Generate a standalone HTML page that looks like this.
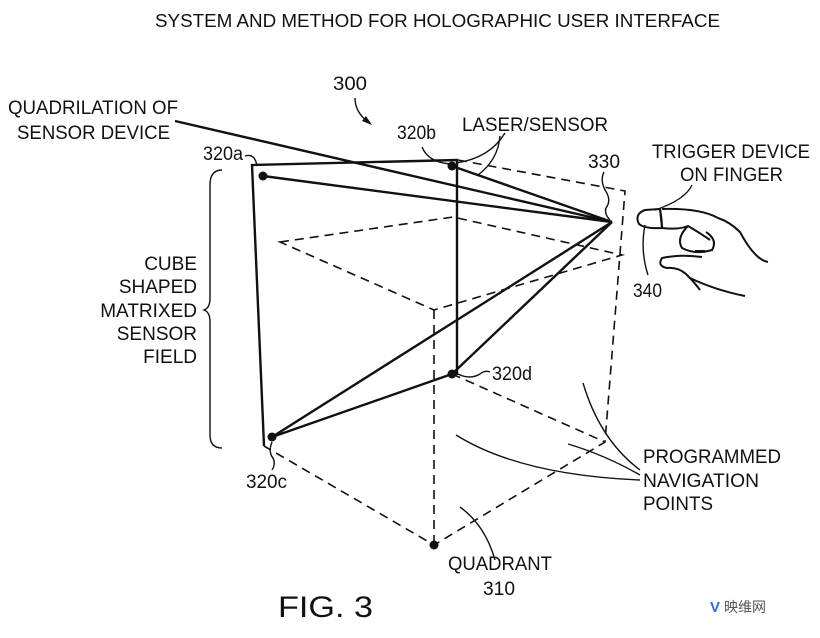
<!DOCTYPE html>
<html><head><meta charset="utf-8"><style>
html,body{margin:0;padding:0;background:#fff;}
svg{display:block;}
text{font-family:"Liberation Sans",Arial,sans-serif;fill:#111;}
</style></head><body>
<svg width="820" height="638" viewBox="0 0 820 638" xmlns="http://www.w3.org/2000/svg">
<rect width="820" height="638" fill="#fff"/>
<text x="155" y="27" font-size="18" textLength="565" lengthAdjust="spacingAndGlyphs">SYSTEM AND METHOD FOR HOLOGRAPHIC USER INTERFACE</text>

<g font-size="19">
<text x="8" y="114" textLength="170" lengthAdjust="spacingAndGlyphs">QUADRILATION OF</text>
<text x="17" y="139" textLength="153" lengthAdjust="spacingAndGlyphs">SENSOR DEVICE</text>
<text x="333" y="90" textLength="34" lengthAdjust="spacingAndGlyphs">300</text>
<text x="397" y="139" textLength="39" lengthAdjust="spacingAndGlyphs">320b</text>
<text x="462" y="131" textLength="146" lengthAdjust="spacingAndGlyphs">LASER/SENSOR</text>
<text x="203" y="160" textLength="40" lengthAdjust="spacingAndGlyphs">320a</text>
<text x="588" y="168" textLength="32" lengthAdjust="spacingAndGlyphs">330</text>
<text x="652" y="158" textLength="158" lengthAdjust="spacingAndGlyphs">TRIGGER DEVICE</text>
<text x="680" y="181" textLength="103" lengthAdjust="spacingAndGlyphs">ON FINGER</text>
<text x="633" y="297" textLength="29" lengthAdjust="spacingAndGlyphs">340</text>
<text x="197" y="270" text-anchor="end">CUBE</text>
<text x="197" y="293" text-anchor="end">SHAPED</text>
<text x="197" y="317" text-anchor="end">MATRIXED</text>
<text x="197" y="340" text-anchor="end">SENSOR</text>
<text x="197" y="363" text-anchor="end">FIELD</text>
<text x="492" y="380" textLength="40" lengthAdjust="spacingAndGlyphs">320d</text>
<text x="246" y="488" textLength="41" lengthAdjust="spacingAndGlyphs">320c</text>
<text x="643" y="463" textLength="138" lengthAdjust="spacingAndGlyphs">PROGRAMMED</text>
<text x="643" y="487" textLength="116" lengthAdjust="spacingAndGlyphs">NAVIGATION</text>
<text x="643" y="510" textLength="70" lengthAdjust="spacingAndGlyphs">POINTS</text>
<text x="448" y="570" textLength="104" lengthAdjust="spacingAndGlyphs">QUADRANT</text>
<text x="483" y="595" textLength="32" lengthAdjust="spacingAndGlyphs">310</text>
</g>
<text x="278" y="617" font-size="30" textLength="95" lengthAdjust="spacingAndGlyphs">FIG. 3</text>

<!-- dashed cube -->
<g fill="none" stroke="#111" stroke-width="1.6" stroke-dasharray="9,6">
<polyline points="458,160 625,191 605,442 434,545 264,446"/>
<line x1="434" y1="310" x2="434" y2="545"/>
<polygon points="280,242 453,217 622,255 434,310"/>
<line x1="452" y1="374" x2="605" y2="442"/>
</g>

<!-- solid lines -->
<g fill="none" stroke="#111" stroke-width="2.4">
<polyline points="458,160 252,165 264,446"/>
<line x1="175" y1="121" x2="612" y2="222"/>
<line x1="263" y1="176" x2="612" y2="222"/>
<line x1="452" y1="166" x2="612" y2="222"/>
<line x1="457" y1="160" x2="457" y2="375"/>
<line x1="452" y1="374" x2="612" y2="222"/>
<line x1="272" y1="437" x2="612" y2="222"/>
<line x1="272" y1="437" x2="452" y2="374"/>
</g>
<g fill="#111">
<circle cx="263" cy="176" r="4.5"/><circle cx="452" cy="166" r="4.5"/>
<circle cx="452" cy="374" r="4.5"/><circle cx="272" cy="437" r="4.5"/>
<circle cx="434" cy="545" r="4.5"/>
</g>

<!-- leaders -->
<g fill="none" stroke="#111" stroke-width="1.4">
<path d="M355,98 Q355,112 368,122"/>
<path d="M422,147 Q428,162 450,164"/>
<path d="M505,133 Q490,158 456,163"/>
<path d="M500,136 Q498,160 478,175"/>
<path d="M245,156 Q255,153 257,166"/>
<path d="M604,172 Q600,180 605,190 Q612,200 606,208 Q604,214 610,220"/>
<path d="M272,442 Q268,452 273,458 Q276,464 272,470"/>
<path d="M458,374 Q470,380 480,374 Q485,370 490,372"/>
<path d="M222,170 Q210,170 210,185 L210,298 Q210,308 204,310 Q210,312 210,322 L210,435 Q210,448 222,448"/>
<path d="M583,383 Q600,440 640,470"/>
<path d="M568,444 Q605,455 640,475"/>
<path d="M456,435 Q520,475 640,480"/>
<path d="M460,507 Q485,525 495,560"/>
<path d="M692,185 Q685,200 655,210"/>
<path d="M645,225 Q640,250 648,275"/>
</g>
<path d="M362,121 L372,125 L366,116 Z" fill="#111"/>

<!-- hand -->
<g fill="none" stroke="#111" stroke-width="2">
<path d="M660,209 L645,210 Q634,214 639,224 Q645,229 662,228 Z"/>
<path d="M660,209 Q662,220 662,228"/>
<path d="M662,209 Q700,208 718,218 Q730,222 740,232 Q755,260 768,262"/>
<path d="M662,228 Q678,230 688,226 Q700,233 710,240"/>
<path d="M688,226 Q676,238 682,248 Q695,255 712,250 Q718,240 706,232"/>
<path d="M695,251 L705,251"/>
<path d="M702,257 Q680,254 662,258 Q657,266 667,268 Q678,267 686,274 Q695,283 700,290"/>
<path d="M690,278 Q715,290 745,296"/>
</g>

<!-- watermark -->
<text x="710" y="612" font-size="15" font-weight="bold" fill="#2a6fd6" style="font-family:'Liberation Sans',sans-serif;fill:#2a6fd6">V</text>
<text x="724" y="612" font-size="14" style="font-family:'Liberation Sans','Noto Sans CJK SC',sans-serif;fill:#555">映维网</text>
</svg>
</body></html>
